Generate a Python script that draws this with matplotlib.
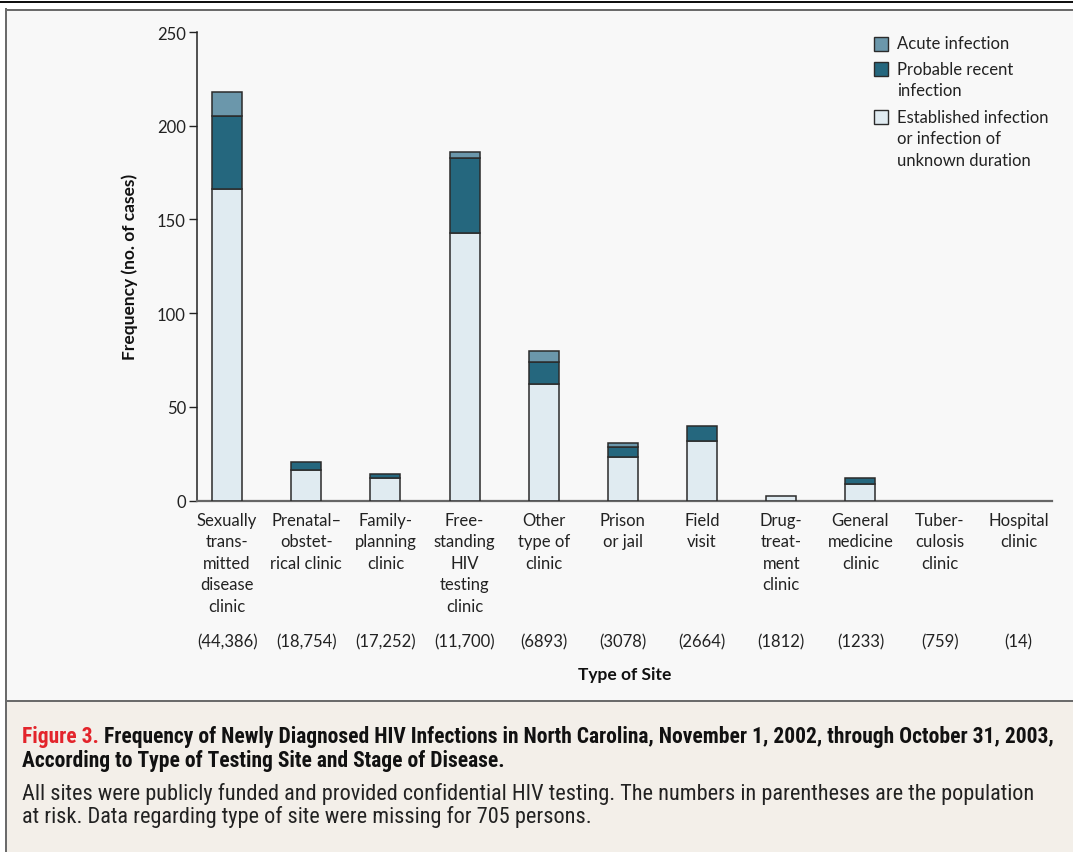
import matplotlib
matplotlib.use("Agg")
import matplotlib.pyplot as plt
from matplotlib.patches import Rectangle
from matplotlib.lines import Line2D
import numpy as np

SITES = [
    "Sexually\ntrans-\nmitted\ndisease\nclinic",
    "Prenatal\u2013\nobstet-\nrical clinic",
    "Family-\nplanning\nclinic",
    "Free-\nstanding\nHIV\ntesting\nclinic",
    "Other\ntype of\nclinic",
    "Prison\nor jail",
    "Field\nvisit",
    "Drug-\ntreat-\nment\nclinic",
    "General\nmedicine\nclinic",
    "Tuber-\nculosis\nclinic",
    "Hospital\nclinic",
]
POPULATION = ["(44,386)", "(18,754)", "(17,252)", "(11,700)", "(6893)", "(3078)",
              "(2664)", "(1812)", "(1233)", "(759)", "(14)"]
established = [166, 16.5, 12, 143, 62, 23.5, 32, 2.5, 9, 0, 0]
probable = [39, 4, 2, 40, 12, 5, 8, 0, 3, 0, 0]
acute = [13, 0, 0, 3, 6, 2.5, 0, 0, 0, 0, 0]

LEGEND = ["Acute infection", "Probable recent\ninfection",
          "Established infection\nor infection of\nunknown duration"]
C_ACUTE = "#6b97ab"
C_PROB = "#25677e"
C_EST = "#e0ebf1"
EDGE = "#2b2b2b"

MAIN_FONT = ["Lato", "Open Sans", "DejaVu Sans"]
CAP_FONT = ["Roboto Condensed", "Liberation Sans Narrow", "Lato", "DejaVu Sans"]
plt.rcParams["font.family"] = MAIN_FONT

W, H = 1073, 853
fig = plt.figure(figsize=(W / 100, H / 100), dpi=100)


def fx(px):
    return px / W


def fy(py):
    return 1 - py / H


# panels: chart area and caption box
fig.patches.append(Rectangle((fx(6), fy(702)), fx(W - 6), fy(10) - fy(702),
                             transform=fig.transFigure, facecolor="#f8f8f8",
                             edgecolor="none", zorder=-2))
fig.patches.append(Rectangle((fx(6), 0), fx(W - 6), fy(702),
                             transform=fig.transFigure, facecolor="#f3efe9",
                             edgecolor="none", zorder=-2))
for x0, y0, x1, y1, lw, c in [(0, 3, W, 3, 2.0, "#111111"),
                              (6, 10.5, W, 10.5, 2.0, "#6b6b6b"),
                              (6, 702, W, 702, 2.0, "#6b6b6b"),
                              (6, 10, 6, H, 2.0, "#6b6b6b")]:
    fig.lines.append(Line2D([fx(x0), fx(x1)], [fy(y0), fy(y1)],
                            transform=fig.transFigure, lw=lw * 0.72, color=c,
                            zorder=-1))

ax = fig.add_axes([fx(197), fy(501.7), fx(1052) - fx(197), fy(33) - fy(501.7)])
ax.patch.set_visible(False)

x = np.arange(len(SITES))
est = np.array(established)
prob = np.array(probable)
acu = np.array(acute)
bw = 0.38
kw = dict(width=bw, edgecolor=EDGE, linewidth=1.1, zorder=3)
m = est > 0
ax.bar(x[m], est[m], color=C_EST, **kw)
m = prob > 0
ax.bar(x[m], prob[m], bottom=est[m], color=C_PROB, **kw)
m = acu > 0
ax.bar(x[m], acu[m], bottom=(est + prob)[m], color=C_ACUTE, **kw)

ax.set_xlim(-0.38, 10.42)
ax.set_ylim(0, 250)
ax.set_yticks([0, 50, 100, 150, 200, 250])
ax.tick_params(axis="y", direction="out", length=6, width=1, colors="#222222",
               labelsize=12, pad=2)
ax.set_xticks(x)
ax.set_xticklabels(SITES, fontsize=12, linespacing=1.42, color="#222222")
ax.tick_params(axis="x", length=0, pad=8)
for s in ["top", "right"]:
    ax.spines[s].set_visible(False)
ax.spines["left"].set_color("#222222")
ax.spines["left"].set_linewidth(1.1)
ax.spines["bottom"].set_color("#666666")
ax.spines["bottom"].set_linewidth(1.6)

for xi, p in zip(x, POPULATION):
    ax.text(xi, -0.300, p, transform=ax.get_xaxis_transform(), ha="center",
            va="center", fontsize=12, color="#222222")
ax.text(0.5, -0.370, "Type of Site", transform=ax.transAxes, ha="center",
        va="center", fontsize=12.5, fontweight="bold", color="#111111")
ax.set_ylabel("Frequency (no. of cases)", fontsize=12.5, fontweight="bold",
              color="#111111", labelpad=14)

# legend
patch_c = [45, 70, 117.5]
text_top = [45, 71, 119]
for yc, yt, lab, c in zip(patch_c, text_top, LEGEND, [C_ACUTE, C_PROB, C_EST]):
    fig.patches.append(Rectangle((fx(874), fy(yc + 7)), fx(14), fy(0) - fy(14),
                                 transform=fig.transFigure, facecolor=c,
                                 edgecolor=EDGE, linewidth=1.0, zorder=3))
    fig.text(fx(897), fy(yt - 9), lab, ha="left", va="top", fontsize=12,
             linespacing=1.42, color="#222222")

# caption
t1 = fig.text(fx(22), fy(743), "Figure 3.", fontsize=15.5, fontweight="bold",
              color="#e3242b", family=CAP_FONT, va="baseline")
fig.text(fx(22), fy(767), "According to Type of Testing Site and Stage of Disease.",
         fontsize=15.5, fontweight="bold", color="#111111", family=CAP_FONT,
         va="baseline")
ann = fig.text(0, 0, " Frequency of Newly Diagnosed HIV Infections in North Carolina, "
               "November 1, 2002, through October 31, 2003,",
               fontsize=15.5, fontweight="bold", color="#111111", family=CAP_FONT,
               va="baseline")
fig.canvas.draw()
bb = t1.get_window_extent()
ann.set_position((bb.x1 / W, fy(743)))
fig.text(fx(22), fy(800), "All sites were publicly funded and provided confidential HIV "
         "testing. The numbers in parentheses are the population",
         fontsize=16, color="#222222", family=CAP_FONT, va="baseline")
fig.text(fx(22), fy(823), "at risk. Data regarding type of site were missing for 705 persons.",
         fontsize=16, color="#222222", family=CAP_FONT, va="baseline")

fig.savefig("out.png", dpi=100)
